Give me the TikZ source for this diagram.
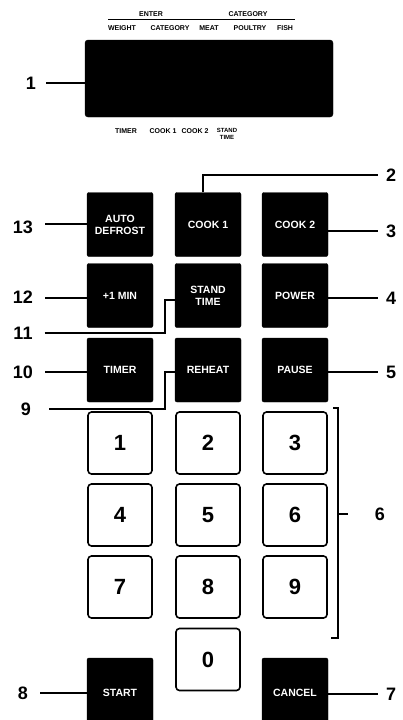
\documentclass[tikz,border=0pt]{standalone}
\usepackage{fontspec}
\setmainfont{Liberation Sans}
\begin{document}
\begin{tikzpicture}[x=1pt,y=-1pt,
  blk/.style={draw=black,fill=black,rounded corners=2pt,minimum width=66pt,minimum height=64pt,inner sep=0pt,text=white,font=\bfseries\fontsize{10.5}{12}\selectfont,align=center},
  numkey/.style={draw=black,line width=1.6pt,fill=white,rounded corners=3.5pt,minimum width=64pt,minimum height=62pt,inner sep=0pt,font=\bfseries\fontsize{22}{24}\selectfont},
  lbl/.style={font=\bfseries\fontsize{18}{20}\selectfont,inner sep=0pt},
  tiny/.style={font=\bfseries\fontsize{7}{7.5}\selectfont,inner sep=0pt},
  lead/.style={line width=1.4pt}]
\useasboundingbox (0,0) rectangle (402,720);
% display
\node[draw=black,fill=black,rounded corners=3pt,minimum width=248pt,minimum height=77pt,inner sep=0pt] (disp) at (209,78.5) {};
\node[tiny] (tent) at (151,14) {ENTER};
\node[tiny] (tcat) at (248,14) {CATEGORY};
\coordinate (tl1) at (108,19);
\coordinate (tl2) at (295,19);
\draw[line width=1pt] (tl1) -- (tl2);
\node[tiny] (tw) at (122,28) {WEIGHT};
\node[tiny] (tc) at (170,28) {CATEGORY};
\node[tiny] (tm) at (209,28) {MEAT};
\node[tiny] (tp) at (250,28) {POULTRY};
\node[tiny] (tf) at (285,28) {FISH};
\node[tiny] (bt) at (126,131) {TIMER};
\node[tiny] (bc1) at (163,131) {COOK 1};
\node[tiny] (bc2) at (195,131) {COOK 2};
\node[tiny,align=center,font=\bfseries\fontsize{6}{6.5}\selectfont] (bst) at (227,134) {STAND\\TIME};
% black keys
\node[blk] (auto) at (120,224.5) {AUTO\\DEFROST};
\node[blk] (cook1) at (208,224.5) {COOK 1};
\node[blk] (cook2) at (295,224.5) {COOK 2};
\node[blk] (min) at (120,295.5) {+1 MIN};
\node[blk] (stand) at (208,295.5) {STAND\\TIME};
\node[blk] (power) at (295,295.5) {POWER};
\node[blk] (timer) at (120,370) {TIMER};
\node[blk] (reheat) at (208,370) {REHEAT};
\node[blk] (pause) at (295,370) {PAUSE};
\node[blk,minimum height=70pt] (start) at (120,693) {START};
\node[blk,minimum height=70pt] (cancel) at (295,693) {CANCEL};
% number keys
\node[numkey] (k1) at (120,443) {1};
\node[numkey] (k2) at (208,443) {2};
\node[numkey] (k3) at (295,443) {3};
\node[numkey] (k4) at (120,515) {4};
\node[numkey] (k5) at (208,515) {5};
\node[numkey] (k6) at (295,515) {6};
\node[numkey] (k7) at (120,587) {7};
\node[numkey] (k8) at (208,587) {8};
\node[numkey] (k9) at (295,587) {9};
\node[numkey] (k0) at (208,659.5) {0};
% labels
\node[lbl] (l1) at (31,83) {1};
\node[lbl] (l2) at (391,175) {2};
\node[lbl] (l3) at (391,231) {3};
\node[lbl] (l4) at (391,298) {4};
\node[lbl] (l5) at (391,372) {5};
\node[lbl] (l6) at (380,514) {6};
\node[lbl] (l7) at (391,694) {7};
\node[lbl] (l8) at (23,693) {8};
\node[lbl] (l9) at (26,409) {9};
\node[lbl] (l10) at (23,372) {10};
\node[lbl] (l11) at (23,333) {11};
\node[lbl] (l12) at (23,297) {12};
\node[lbl] (l13) at (23,227) {13};
% leaders
\draw[lead] (l1.east) ++(10,0) -- (disp.west |- l1);
\draw[lead] (cook1.north) ++(-5,0) |- ([xshift=-8pt]l2.west);
\draw[lead] (cook2.east |- l3) -- ([xshift=-8pt]l3.west);
\draw[lead] (power.east |- l4) -- ([xshift=-8pt]l4.west);
\draw[lead] (pause.east |- l5) -- ([xshift=-8pt]l5.west);
\draw[lead] (cancel.east |- l7) -- ([xshift=-8pt]l7.west);
\draw[lead] ([xshift=12pt]l8.east) -- (start.west |- l8);
\draw[lead] ([xshift=12pt]l13.east |- 0,224) -- (auto.west |- 0,224);
\draw[lead] ([xshift=12pt]l12.east |- 0,298) -- (min.west |- 0,298);
\draw[lead] ([xshift=12pt]l10.east) -- (timer.west |- l10);
\coordinate (c11) at (165,300);
\coordinate (c9) at (165,372);
\draw[lead] ([xshift=12pt]l11.east) -| (c11) -- (stand.west |- c11);
\draw[lead] ([xshift=18pt]l9.east) -| (c9) -- (reheat.west |- c9);
% bracket 6
\coordinate (b1) at (333,408);
\coordinate (b2) at (338,408);
\coordinate (b3) at (338,638);
\coordinate (b4) at (331,638);
\draw[line width=1.5pt] (b1) -- (b2) -- (b3) -- (b4);
\coordinate (t1) at (338,514);
\coordinate (t2) at (348,514);
\draw[line width=1.2pt] (t1) -- (t2);
\end{tikzpicture}
\end{document}
